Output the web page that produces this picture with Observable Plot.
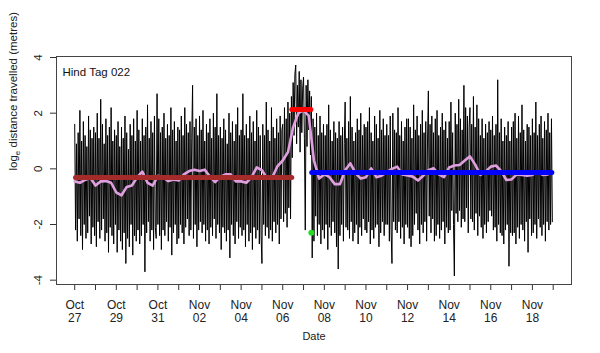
<!DOCTYPE html>
<html><head><meta charset="utf-8">
<script src="https://cdn.jsdelivr.net/npm/d3@7"></script>
<script src="https://cdn.jsdelivr.net/npm/@observablehq/plot@0.6"></script>
<style>body{margin:0;background:#fff;}</style>
</head><body><div id="chart"></div>
<script>
const title = "Hind Tag 022";
const xTitle = "Date";
const yTitle = "loge distance travelled (metres)";

// raw series: hourly readings starting Oct 27 00:00 (one row per day)
const blackStart = "2011-10-27T00:00:00Z";
const blackStepHours = 1;
const blackValues = [
  1.6,-2.2,0.9,-2.6,1.3,-1.8,2.1,-2.4,1.0,-2.9,1.7,-2.0, 1.2,-2.5,0.8,-2.3,1.9,-1.7,1.4,-2.7,1.1,-2.1,1.5,-2.4,
  1.3,-2.8,2.0,-1.9,1.1,-2.5,2.5,-2.2,1.6,-1.8,0.9,-2.6, 1.8,-2.3,1.2,-3.0,1.5,-2.1,2.2,-2.4,1.0,-2.7,1.4,-2.0,
  1.2,-3.0,1.7,-2.2,0.8,-2.6,1.5,-2.9,1.1,-2.3,1.9,-3.4, 1.3,-2.5,0.7,-2.8,1.6,-2.0,1.2,-3.1,1.8,-2.4,1.0,-2.6,
  2.1,-2.2,1.4,-2.7,1.0,-2.4,1.8,-2.0,1.2,-3.7,1.5,-2.3, 2.3,-1.9,1.1,-2.6,1.7,-2.2,1.3,-2.9,1.9,-2.1,-2.5,2.7,
  -2.0,1.8,-2.4,1.3,-2.9,1.5,-2.2,2.0,-2.4,1.1,-1.9,1.6, -2.6,1.2,-2.1,2.2,-3.1,1.4,-2.3,1.7,-2.0,1.0,-2.7,1.5,
  -2.5,1.4,-2.0,1.9,-2.3,1.2,-2.7,2.2,-2.1,1.6,-1.8,1.3, -2.4,1.7,-2.2,1.1,3.0,-2.5,1.5,-2.0,1.8,-2.8,1.2,-2.2,
  1.9,-1.9,1.4,-2.3,2.1,-2.0,1.0,-2.6,1.6,-2.2,1.3,-2.7, 1.8,-2.1,1.1,-2.4,2.0,-1.8,1.5,-2.5,2.7,-2.0,1.2,-2.3,
  1.5,-2.9,1.1,-2.1,1.8,-2.3,1.4,-2.6,0.9,-2.2,2.0,-3.2, 1.3,-2.0,1.7,-2.4,1.0,-2.7,1.6,-1.9,2.2,-2.5,1.2,-2.1,
  1.4,-2.4,2.7,-2.2,1.2,-2.8,1.6,-2.0,1.1,-2.6,1.9,-2.3, 1.3,-2.9,1.7,-2.1,1.0,-2.5,2.1,-2.2,1.5,-2.7,1.2,-2.4,
  -3.4,1.6,-2.0,1.2,-2.4,2.4,-2.1,1.4,-2.5,1.0,-2.2,2.2, -2.6,1.5,-1.9,1.1,-2.3,1.8,-2.0,1.3,-2.7,1.9,-1.8,1.4,
  1.6,-1.9,2.2,-1.6,1.8,-2.1,2.4,-1.4,2.0,-1.8,2.6,0.4, 3.1,1.2,3.4,3.73,0.9,3.0,1.5,3.5,0.6,3.2,1.3,2.9,
  3.3,1.1,-2.2,3.0,0.8,3.2,1.4,2.8,0.5,2.6,-3.2,1.8, -2.6,1.5,-1.7,2.0,-2.4,1.2,-2.0,1.9,-2.7,1.3,-2.2,1.6,
  -2.5,1.2,-2.0,1.6,-2.9,2.3,-2.1,1.4,-2.4,1.0,-1.9,1.7, -2.3,1.3,-2.8,1.1,-3.6,1.7,-2.4,1.2,-2.0,1.5,-2.6,0.9,
  2.4,-2.1,1.1,-2.2,1.7,-2.5,2.6,-1.9,1.5,-2.6,1.0,-2.3, 1.3,-2.0,1.8,-2.7,1.4,-2.1,2.0,-2.4,1.2,-1.8,1.6,-2.2,
  1.5,-2.3,1.7,-1.9,2.2,-2.7,1.3,-2.2,1.0,-2.5,1.9,-2.1, 1.6,-2.0,1.1,-2.8,2.1,-2.3,1.4,-1.9,1.8,-2.4,1.2,-2.0,
  1.6,-2.0,1.2,-2.6,1.9,-2.2,-3.4,2.0,-1.9,1.4,-2.2,1.3, -2.3,2.2,-1.9,1.2,-2.5,1.7,-2.1,1.0,-2.7,1.5,-2.0,1.8,
  -2.1,1.8,-2.5,1.5,-2.8,1.1,-2.4,2.3,-2.0,1.4,-1.6,1.9, -2.2,1.2,-2.7,1.6,-2.0,2.1,-2.3,1.3,-1.9,1.7,-2.6,1.0,
  2.8,-1.7,1.6,-2.3,1.9,-1.8,1.3,-2.6,1.8,-2.4,2.1,-2.0, 1.2,-2.5,1.5,-2.2,2.0,-1.9,1.4,-2.7,1.7,-2.1,1.1,-2.3,
  1.7,-2.2,2.4,-1.5,1.3,-2.0,-3.85,2.0,-1.6,1.6,-1.9,2.5, -1.5,1.8,-2.1,1.4,-1.8,3.0,-1.9,2.2,-1.4,1.9,-2.3,1.5,
  2.2,-1.8,1.6,-1.9,2.6,-2.2,1.5,-1.6,2.3,-2.4,1.8,-1.7, 1.2,-2.1,1.8,-2.5,1.1,-2.0,1.6,-2.3,1.3,-1.9,1.7,-1.5,
  1.4,-1.7,1.9,-2.2,1.2,-2.1,1.6,-2.6,3.2,-2.0,1.3,-2.3, 1.8,-2.4,1.0,-2.7,1.5,-2.2,1.2,-2.0,1.7,-3.5,1.0,-2.3,
  1.5,-2.4,1.7,-2.3,2.0,-2.7,1.1,-2.1,1.9,-2.5,1.3,-2.0, 2.3,-2.2,1.4,-2.6,1.0,-1.9,1.6,-3.0,1.5,-1.8,1.2,-2.4,
  1.8,-2.3,1.3,-2.0,2.4,-2.5,1.2,-1.8,1.6,-2.1,1.9,-2.4, 1.1,-2.0,1.7,-2.6,1.4,-1.9,2.0,-2.2,1.3,-2.0,1.8,-1.9
];

// smoothed series (pink): 6-hourly, starting Oct 27 00:00
const smoothStart = "2011-10-27T00:00:00Z";
const smoothStepHours = 6;
const smoothValues = [
  -0.45, -0.5, -0.4, -0.32,   -0.6, -0.45, -0.44, -0.5,
  -0.85, -0.95, -0.65, -0.6,  -0.3, -0.1, -0.5, -0.6,
  -0.25, -0.3, -0.44, -0.38,  -0.42, -0.2, -0.08, -0.03,
  -0.08, -0.03, -0.28, -0.48, -0.28, -0.2, -0.2, -0.45,
  -0.45, -0.5, -0.3, 0.05,    -0.05, -0.35, -0.3, 0.1,
  0.3, 0.6, 1.5, 2.0,         2.1, 1.9, 0.3, -0.35,
  -0.2, -0.3, -0.55, -0.55,   -0.05, 0.2, -0.15, -0.35,
  -0.3, 0.02, -0.3, -0.25,    -0.12, 0.0, 0.08, -0.2,
  -0.24, -0.28, -0.42, -0.25, -0.05, 0.02, -0.2, -0.3,
  0.05, 0.12, 0.14, 0.3,      0.45, 0.15, -0.22, -0.1,
  0.08, 0.12, -0.08, -0.4,    -0.38, -0.2, -0.22, -0.25,
  -0.22, -0.1, -0.22, -0.2
];

// fitted segment means
const segmentStarts = ["2011-10-27T01:30:00Z", "2011-11-06T11:00:00Z", "2011-11-07T10:00:00Z"];
const segmentEnds   = ["2011-11-06T11:00:00Z", "2011-11-07T09:00:00Z", "2011-11-18T23:00:00Z"];
const segmentLevels = [-0.31, 2.13, -0.13];
const segmentColors = ["#a52a2a", "#ff0000", "#0000ff"];

// change point marker
const pointTimes = ["2011-11-07T09:00:00Z"];
const pointValues = [-2.3];

const yTicks = [-4, -2, 0, 2, 4];
const xTickDates = ["2011-10-27","2011-10-28","2011-10-29","2011-10-30","2011-10-31","2011-11-01","2011-11-02","2011-11-03","2011-11-04","2011-11-05","2011-11-06","2011-11-07","2011-11-08","2011-11-09","2011-11-10","2011-11-11","2011-11-12","2011-11-13","2011-11-14","2011-11-15","2011-11-16","2011-11-17","2011-11-18","2011-11-19"];
const xLabelDates = ["2011-10-27","2011-10-29","2011-10-31","2011-11-02","2011-11-04","2011-11-06","2011-11-08","2011-11-10","2011-11-12","2011-11-14","2011-11-16","2011-11-18"];
const xLabels = ["Oct\n27","Oct\n29","Oct\n31","Nov\n02","Nov\n04","Nov\n06","Nov\n08","Nov\n10","Nov\n12","Nov\n14","Nov\n16","Nov\n18"];

const H = 3600e3, D = 24 * H;
const b0 = new Date(blackStart), s0 = new Date(smoothStart);
const black = blackValues.map((v, i) => ({t: new Date(+b0 + i * blackStepHours * H), v}));
const smooth = smoothValues.map((v, i) => ({t: new Date(+s0 + i * smoothStepHours * H), v}));
const segs = segmentLevels.map((v, i) => ({start: new Date(segmentStarts[i]), end: new Date(segmentEnds[i]), v, c: segmentColors[i]}));
const pts = pointValues.map((v, i) => ({t: new Date(pointTimes[i]), v}));
const tickD = xTickDates.map(d => new Date(d + "T00:00:00Z"));
const labD = xLabelDates.map(d => new Date(d + "T00:00:00Z"));

const x0 = new Date(+new Date("2011-10-27T00:00:00Z") - 0.875 * D);
const x1 = new Date(+new Date("2011-11-19T00:00:00Z") + 0.88 * D);

const plot = Plot.plot({
  width: 600, height: 353,
  marginLeft: 56, marginRight: 29, marginTop: 56, marginBottom: 69,
  style: {fontFamily: "'Liberation Sans', Arial, sans-serif", fontSize: "11px", color: "#222", background: "#fff"},
  x: {type: "utc", domain: [x0, x1]},
  y: {domain: [-4.155, 4.036]},
  color: {type: "identity"},
  marks: [
    Plot.axisX({ticks: tickD, tickSize: 6, tickFormat: () => "", label: null, stroke: "#333"}),
    Plot.axisY({ticks: yTicks, tickSize: 6, tickFormat: () => "", label: null, stroke: "#333"}),
    Plot.line(black, {x: "t", y: "v", stroke: "#000", strokeWidth: 1}),
    Plot.line(smooth, {x: "t", y: "v", stroke: "#e0a0e0", strokeWidth: 2.6}),
    Plot.ruleY(segs, {y: "v", x1: "start", x2: "end", stroke: "c", strokeWidth: 5, strokeLinecap: "round"}),
    Plot.dot(pts, {x: "t", y: "v", r: 3, fill: "#22dd22", stroke: null}),
    Plot.frame({stroke: "#444"}),
    Plot.text([title], {frameAnchor: "top-left", dx: 6, dy: 16, textAnchor: "start", lineAnchor: "middle", text: d => d, fontSize: 11.5, fill: "#111"}),
    Plot.text(yTicks, {y: d => d, text: d => String(d), frameAnchor: "left", dx: -18, rotate: -90, textAnchor: "middle", lineAnchor: "middle", fontSize: 11.5, fill: "#222"}),
    Plot.text(labD, {x: d => d, text: (d, i) => xLabels[i], frameAnchor: "bottom", lineAnchor: "top", dy: 15, lineHeight: 1.08, fontSize: 12, fill: "#222"}),
    Plot.text([xTitle], {frameAnchor: "bottom", dy: 52, lineAnchor: "middle", text: d => d, fontSize: 11, fill: "#222"}),
    Plot.text([yTitle], {frameAnchor: "left", dx: -43, rotate: -90, lineAnchor: "middle", text: d => d, fontSize: 11.5, fill: "#222"})
  ]
});
document.getElementById("chart").appendChild(plot);

// subscript e in the y-axis title
plot.querySelectorAll("text").forEach(t => {
  if (t.textContent === yTitle) {
    t.textContent = "";
    const ns = "http://www.w3.org/2000/svg";
    const a = document.createElementNS(ns, "tspan"); a.textContent = "log";
    const b = document.createElementNS(ns, "tspan"); b.textContent = "e"; b.setAttribute("dy", "3"); b.setAttribute("font-size", "8");
    const c = document.createElementNS(ns, "tspan"); c.textContent = " distance travelled (metres)"; c.setAttribute("dy", "-3");
    t.append(a, b, c);
  }
});
</script>
</body></html>
